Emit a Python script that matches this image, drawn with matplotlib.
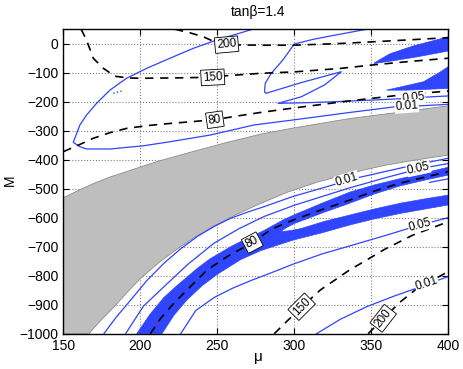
import numpy as np
import matplotlib
matplotlib.use("Agg")
import matplotlib.pyplot as plt

plt.rcParams['font.family'] = ['Liberation Sans', 'DejaVu Sans']

# ---- data (mu, M) ----
# grey excluded region
grey_top_x = [150, 160, 170, 180, 191, 200, 213, 234, 255, 278, 300, 336, 370, 400]
grey_top_y = [-531, -505, -481, -460, -441, -425, -403, -372, -342, -312, -290, -258, -235, -214]
grey_bot_x = [150, 166.6, 175, 183, 191, 200, 212, 222, 235, 248, 262, 275, 295, 314.5, 336, 358, 380, 400]
grey_bot_y = [-1000, -1000, -950, -907, -860, -810, -755, -715, -668, -628, -590, -558, -513, -478,
              -447, -420, -400, -384]

# thick blue band (outline pieces)
band_up_x = [197.6, 206, 215.3, 223.6, 236.9, 245.2, 258.6, 266.8, 280, 293, 300, 318, 336, 352, 369,
             385, 400]
band_up_y = [-1000, -935, -875, -835, -775, -742, -700, -678, -645, -607, -590, -550, -512, -487, -465,
             -445, -426]
band_mid_x = [400, 385, 369, 352, 336, 320, 310, 300, 295, 291, 297, 304, 320, 336, 352, 369, 385, 400]
band_mid_y = [-453, -470, -490, -518, -550, -580, -600, -620, -634, -648, -645, -638, -612, -591, -570,
              -550, -535, -522]
band_low_x = [400, 385, 369, 352, 336, 318, 300, 290, 278, 265, 250, 240, 230, 222, 214]
band_low_y = [-556, -570, -585, -604, -625, -652, -676, -693, -714, -745, -795, -835, -885, -935, -1000]

# small blue wedges, top right
wedge1_x = [352, 362, 377, 390, 400, 400, 380, 365, 352]
wedge1_y = [-66, -35, -8, 10, 24, -25, -45, -58, -68]
wedge2_x = [360, 384, 395, 400, 400, 373, 360]
wedge2_y = [-160, -131, -97, -79, -154, -160, -160]

# black dashed contours
d200a_x = [222.5, 232, 241, 250, 262, 280, 300, 330, 352, 373, 400]
d200a_y = [50, 38, 24, 2, -4, -5, -5, 1, 7, 13, 21]
d150a_x = [161.5, 165, 169.4, 176, 183.5, 192, 200, 220, 241, 262, 278, 300, 330, 351, 375, 400]
d150a_y = [50, 13, -50, -85, -112, -118, -119, -118, -116, -108, -102, -97, -85, -73, -61, -50]
d80a_x = [150, 160, 169.4, 180, 191, 205, 219, 235, 248, 262, 278, 299, 336, 369, 400]
d80a_y = [-372, -349, -326, -307, -292, -282, -275, -268, -262, -250, -237, -222, -197, -177, -163]
d80b_x = [206.5, 213.2, 221.8, 231.5, 243.4, 256.4, 272.7, 285, 299.3, 318, 336.2, 352, 368.7, 385, 400]
d80b_y = [-1000, -947, -895, -843, -780, -734, -686, -640, -608, -572, -539, -508, -481, -460, -441]
d150b_x = [287, 296, 305, 317, 336, 347, 358, 377, 400]
d150b_y = [-1000, -953, -907, -849, -780, -746, -711, -660, -614]
d200b_x = [348, 358, 369, 380, 391, 400]
d200b_y = [-1000, -947, -890, -843, -812, -786]

# thin blue contours
curveA_x = [273, 249.5, 234.3, 219.2, 204, 191, 180.2, 171.6, 165, 160.7, 156.4, 160.7, 165,
            180.2, 201.9, 219.2, 245.2, 274, 299, 336, 366, 382, 400]
curveA_y = [50, 12.8, -16, -50, -85, -119, -160, -205, -246, -280, -340, -355, -363,
            -363, -352, -338, -315, -280, -263, -237, -217, -214, -209]
curveB_x = [347, 329.7, 312, 300, 292.6, 285, 281.1, 280.7, 281.6, 304.5, 330.5, 319.7, 304.5,
            289.4, 310, 330, 364, 377, 389, 400]
curveB_y = [50, 33, 15, -1, -56, -102, -137, -166, -171, -134, -96.5, -142, -183,
            -205.5, -203, -199, -191, -187, -183, -180]
dots_x = [182.4, 185, 187.8]
dots_y = [-171, -167, -163]
L1_x = [176.3, 184, 193.7, 204, 215.3, 226, 236.9, 248, 258.6, 270, 280.3, 299, 325, 343, 373, 400]
L1_y = [-1000, -945, -884, -818, -757, -708, -665, -630, -602, -580, -562, -527, -487, -460, -424, -395]
L2_x = [190.4, 202, 215.3, 231, 247.8, 264, 280.3, 300, 336, 360, 380.6, 400]
L2_y = [-1000, -905, -838, -760, -688, -638, -596, -557, -497, -461, -432, -413]
short_x = [388, 400]
short_y = [-478, -466]
L3_x = [226.2, 236, 248, 260, 271.2, 285, 299.3, 318, 336.2, 360, 381.7, 400]
L3_y = [-1000, -920, -875, -843, -818, -790, -760, -725, -697, -660, -625, -600]
L4_x = [314.5, 330, 347, 365, 379.5, 386, 400]
L4_y = [-1000, -950, -907, -870, -843, -830, -803]
red_x = [210.5, 212, 213.5]
red_y = [-965, -955, -945]

# contour labels: text, x, y, rotation
dash_labels = [("200", 256, -3, 5), ("150", 247, -116, 3), ("80", 248.4, -262, 8),
               ("80", 272.7, -686, 28), ("150", 304.8, -907, 45), ("200", 357.8, -947, 52)]
blue_labels = [("0.05", 377.3, -187, 6), ("0.01", 373, -216, 4), ("0.01", 334.2, -469, 17),
               ("0.05", 380.6, -430, 12), ("0.05", 381.7, -624, 15), ("0.01", 386, -828, 18)]

blue = '#2f45ff'

fig = plt.figure(figsize=(4.63, 3.69), dpi=100)
ax = fig.add_axes([0.137, 0.0957, 0.831, 0.825])

ax.fill(np.r_[grey_top_x, grey_bot_x[::-1]], np.r_[grey_top_y, grey_bot_y[::-1]],
        fc='#bebebe', ec='#8c8c8c', lw=0.6, zorder=1)
ax.fill(np.r_[band_up_x, band_mid_x, band_low_x], np.r_[band_up_y, band_mid_y, band_low_y],
        fc=blue, ec=blue, lw=0.5, zorder=2)
ax.fill(wedge1_x, wedge1_y, fc=blue, ec=blue, lw=0.5, zorder=2)
ax.fill(wedge2_x, wedge2_y, fc=blue, ec=blue, lw=0.5, zorder=2)

for xs, ys in [(curveA_x, curveA_y), (curveB_x, curveB_y), (L1_x, L1_y), (L2_x, L2_y),
               (short_x, short_y), (L3_x, L3_y), (L4_x, L4_y)]:
    ax.plot(xs, ys, color=blue, lw=0.9, zorder=3)
ax.plot(dots_x, dots_y, color=blue, lw=1.0, ls=':', zorder=3)
ax.plot(red_x, red_y, color='red', lw=1.0, ls=':', zorder=4)

for xs, ys in [(d200a_x, d200a_y), (d150a_x, d150a_y), (d80a_x, d80a_y),
               (d80b_x, d80b_y), (d150b_x, d150b_y), (d200b_x, d200b_y)]:
    ax.plot(xs, ys, color='k', lw=1.2, ls=(0, (5, 4)), zorder=4)

for t, x, y, r in dash_labels:
    ax.text(x, y, t, fontsize=8.5, rotation=r, ha='center', va='center', rotation_mode='anchor',
            zorder=6, bbox=dict(boxstyle='square,pad=0.15', fc='white', ec='k', lw=0.6))
for t, x, y, r in blue_labels:
    ax.text(x, y, t, fontsize=8.5, rotation=r, ha='center', va='center', rotation_mode='anchor',
            zorder=5, bbox=dict(boxstyle='square,pad=0.05', fc='white', ec='none'))

ax.set_xlim(150, 400)
ax.set_ylim(-1000, 50)
ax.set_xticks(np.arange(150, 401, 50))
ax.set_yticks(np.arange(-1000, 1, 100))
ax.grid(True, ls=':', color='#808080', lw=0.8)
ax.set_axisbelow(True)
ax.tick_params(direction='in', top=True, right=True, length=4, labelsize=10)
for s in ax.spines.values():
    s.set_linewidth(1.0)
    s.set_zorder(7)

fig.text(258 / 463, 1 - 12 / 369, 'tanβ=1.4', fontsize=10, ha='center', va='center')
fig.text(258 / 463, 1 - 357 / 369, 'μ', fontsize=11, ha='center', va='center')
fig.text(10 / 463, 1 - 180 / 369, 'M', fontsize=10, ha='center', va='center', rotation=90)

fig.savefig('out.png', dpi=100)
